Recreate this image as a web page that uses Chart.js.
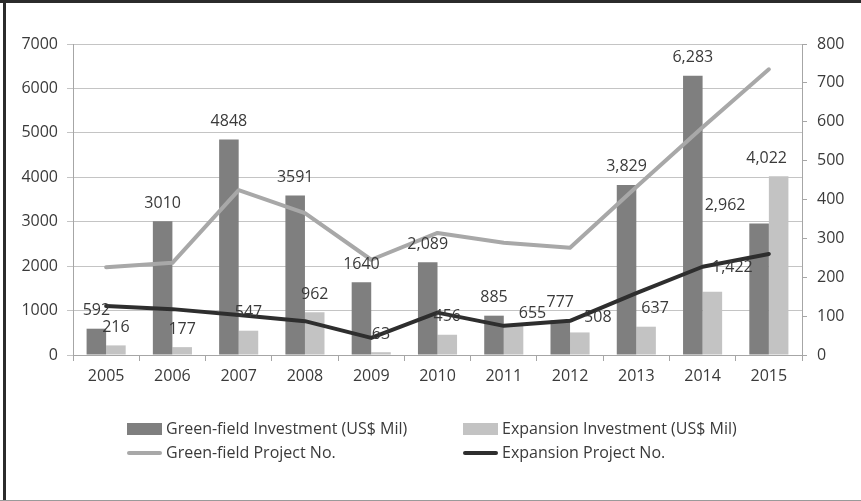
<!DOCTYPE html>
<html>
<head>
<meta charset="utf-8">
<script src="https://cdn.jsdelivr.net/npm/chart.js@4.4.1/dist/chart.umd.min.js"></script>
<style>
  html, body { margin: 0; padding: 0; background: #fff; }
  #wrap { width: 861px; height: 501px; position: relative; }
</style>
</head>
<body>
<div id="wrap"><canvas id="fdiChart"></canvas></div>
<script>
// Years on the category axis
const years = ['2005', '2006', '2007', '2008', '2009', '2010', '2011', '2012', '2013', '2014', '2015'];

// Investment (US$ Mil), left axis
const greenInvest = [592, 3010, 4848, 3591, 1640, 2089, 885, 777, 3829, 6283, 2962];
const expansionInvest = [216, 177, 547, 962, 63, 456, 655, 508, 637, 1422, 4022];

// Number of projects, right axis
const greenProjects = [226, 237, 424, 365, 245, 314, 289, 276, 432, 586, 735];
const expansionProjects = [126, 118, 103, 87, 44, 109, 75, 88, 159, 227, 260];

// Axis ranges
const leftTicks = [0, 1000, 2000, 3000, 4000, 5000, 6000, 7000];
const rightTicks = [0, 100, 200, 300, 400, 500, 600, 700, 800];

const FONT = '"Open Sans", "Noto Sans", sans-serif';
const TEXT = '#3a3a3a';

// from 2010 on the labels are written with a thousands separator
function labelText(v, i) {
    return i >= 5 ? v.toLocaleString('en-US') : String(v);
}

// value labels above the bars, a few pushed aside so they don't collide
const barLabels = {
    id: 'barLabels',
    afterDatasetsDraw(chart, args, opts) {
        const ctx = chart.ctx;
        ctx.save();
        ctx.font = '16px ' + FONT;
        ctx.fillStyle = TEXT;
        ctx.textAlign = 'center';
        ctx.textBaseline = 'middle';
        chart.data.datasets.forEach((ds, di) => {
            if (ds.type !== 'bar') return;
            const meta = chart.getDatasetMeta(di);
            meta.data.forEach((bar, i) => {
                const shift = opts.shift[di + ':' + i] || [0, 0];
                ctx.fillText(labelText(ds.data[i], i), bar.x + shift[0], bar.y - 18 + shift[1]);
            });
        });
        ctx.restore();
    }
};

// two-column legend under the plot
const gridLegend = {
    id: 'gridLegend',
    afterDraw(chart, args, opts) {
        const ctx = chart.ctx;
        ctx.save();
        ctx.font = opts.fontSize + 'px ' + FONT;
        ctx.fillStyle = TEXT;
        ctx.textBaseline = 'middle';
        ctx.textAlign = 'left';
        chart.data.datasets.forEach((ds, i) => {
            const x = opts.cols[i % 2];
            const y = opts.rows[Math.floor(i / 2)];
            if (ds.type === 'bar') {
                ctx.fillStyle = ds.backgroundColor;
                ctx.fillRect(x, y - 6, 35, 12);
            } else {
                ctx.strokeStyle = ds.borderColor;
                ctx.lineWidth = 4;
                ctx.lineCap = 'round';
                ctx.beginPath();
                ctx.moveTo(x + 2, y);
                ctx.lineTo(x + 33, y);
                ctx.stroke();
            }
            ctx.fillStyle = TEXT;
            ctx.fillText(ds.label, x + 39, y);
        });
        ctx.restore();
    }
};

// frame round the figure
const frame = {
    id: 'frame',
    afterDraw(chart) {
        const ctx = chart.ctx;
        ctx.save();
        ctx.fillStyle = '#2b2b2b';
        ctx.fillRect(0, 0, chart.width, 3);
        ctx.fillRect(3, 0, 3, chart.height);
        ctx.fillStyle = '#9a9a9a';
        ctx.fillRect(0, chart.height - 1, chart.width, 1);
        ctx.restore();
    }
};

new Chart(document.getElementById('fdiChart'), {
    data: {
        labels: years,
        datasets: [{
            type: 'bar',
            label: 'Green-field Investment (US$ Mil)',
            data: greenInvest,
            backgroundColor: '#7f7f7f',
            yAxisID: 'y',
            order: 2
        }, {
            type: 'bar',
            label: 'Expansion Investment (US$ Mil)',
            data: expansionInvest,
            backgroundColor: '#c3c3c3',
            yAxisID: 'y',
            order: 2
        }, {
            type: 'line',
            label: 'Green-field Project No.',
            data: greenProjects,
            borderColor: '#a8a8a8',
            borderWidth: 4,
            pointRadius: 0,
            borderJoinStyle: 'round',
            borderCapStyle: 'round',
            yAxisID: 'y1',
            order: 1
        }, {
            type: 'line',
            label: 'Expansion Project No.',
            data: expansionProjects,
            borderColor: '#2e2e2e',
            borderWidth: 4,
            pointRadius: 0,
            borderJoinStyle: 'round',
            borderCapStyle: 'round',
            yAxisID: 'y1',
            order: 0
        }]
    },
    options: {
        responsive: true,
        maintainAspectRatio: false,
        animation: false,
        layout: { padding: { top: 44, left: 0, right: 0, bottom: 0 } },
        datasets: {
            bar: { categoryPercentage: 0.59, barPercentage: 1.0 }
        },
        plugins: {
            legend: { display: false },
            tooltip: { enabled: false },
            barLabels: {
                shift: {
                    '1:6': [19, 6],
                    '1:7': [18, 3],
                    '1:8': [9, 0],
                    '1:9': [20, -6],
                    '0:10': [-34, 0],
                    '1:10': [-12, 0]
                }
            },
            gridLegend: {
                fontSize: 16,
                cols: [127, 463],
                rows: [429, 453]
            }
        },
        scales: {
            x: {
                grid: {
                    display: true,
                    drawOnChartArea: false,
                    offset: true,
                    tickLength: 6,
                    color: '#a6a6a6'
                },
                border: { color: '#a6a6a6' },
                ticks: { color: TEXT, font: { family: FONT, size: 16 }, padding: 6 },
                afterFit(scale) { scale.height = 146; }
            },
            y: {
                position: 'left',
                min: 0,
                max: 7000,
                afterBuildTicks(scale) { scale.ticks = leftTicks.map(v => ({ value: v })); },
                grid: { color: '#c4c4c4', tickLength: 6 },
                border: { color: '#a6a6a6' },
                ticks: {
                    color: TEXT,
                    font: { family: FONT, size: 16 },
                    padding: 9,
                    callback: v => String(v)
                },
                afterFit(scale) { scale.width = 73; }
            },
            y1: {
                position: 'right',
                min: 0,
                max: 800,
                afterBuildTicks(scale) { scale.ticks = rightTicks.map(v => ({ value: v })); },
                grid: { drawOnChartArea: false, tickLength: 5, color: '#a6a6a6' },
                border: { color: '#a6a6a6' },
                ticks: {
                    color: TEXT,
                    font: { family: FONT, size: 16 },
                    padding: 10,
                    callback: v => String(v)
                },
                afterFit(scale) { scale.width = 59; }
            }
        }
    },
    plugins: [barLabels, gridLegend, frame]
});
</script>
</body>
</html>
